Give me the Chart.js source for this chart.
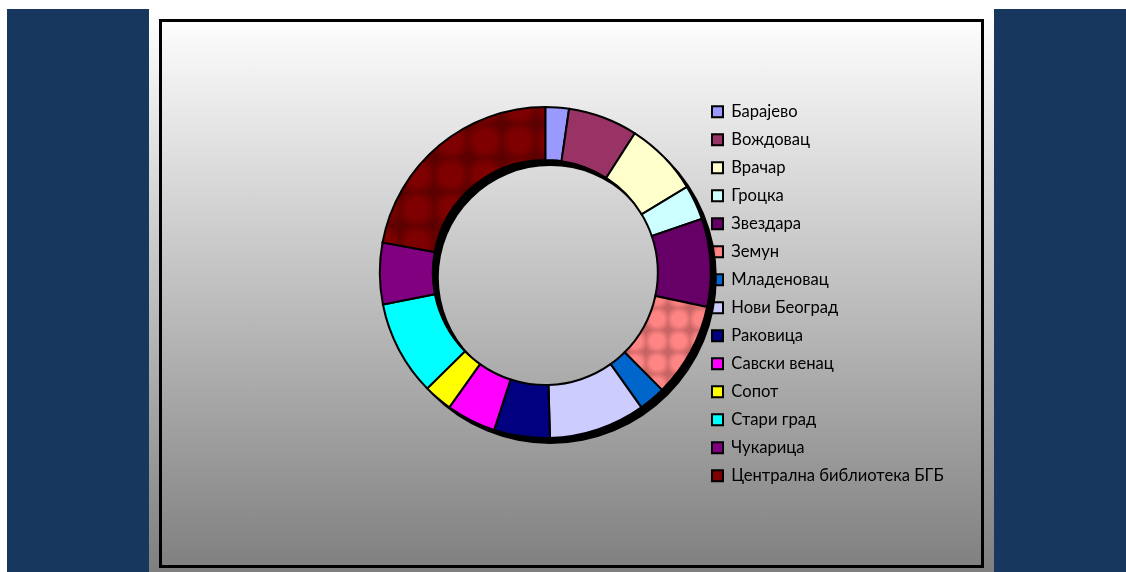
<!DOCTYPE html>
<html><head><meta charset="utf-8">
<script src="https://cdn.jsdelivr.net/npm/chart.js@4.4.0/dist/chart.umd.min.js"></script>
<style>
html,body{margin:0;padding:0;}
body{width:1126px;height:572px;position:relative;overflow:hidden;background:#ffffff;}
#bg{position:absolute;left:149px;top:0;width:845px;height:572px;background:linear-gradient(to bottom,#ffffff 0px,#ffffff 12px,#7f7f7f 572px);}
.panel{position:absolute;top:9px;height:563px;background:#17375E;}
#frame{position:absolute;left:159px;top:19px;width:825px;height:549px;border:3px solid #000;box-sizing:border-box;}
#c{position:absolute;left:0;top:0;width:819px;height:543px;}
</style></head><body>
<div id="bg"></div>
<div class="panel" style="left:7px;width:142px"></div>
<div class="panel" style="left:994px;width:132px"></div>
<div id="frame"><canvas id="c" width="819" height="543"></canvas></div>
<script>
const categories = ["Барајево","Вождовац","Врачар","Гроцка","Звездара","Земун","Младеновац","Нови Београд","Раковица","Савски венац","Сопот","Стари град","Чукарица","Централна библиотека БГБ"];
const shares = [2.3, 6.8, 7.25, 3.4, 8.6, 9.2, 2.6, 9.4, 5.45, 4.85, 2.8, 9.25, 6.0, 22.1];
const sliceColors = ["#9999FF","#993366","#FFFFCC","#CCFFFF","#660066","TILE_ZEMUN","#0066CC","#CCCCFF","#000080","#FF00FF","#FFFF00","#00FFFF","#800080","TILE_CENTRAL"];

const legendFont = {family:"Lato, 'Noto Sans', sans-serif", size:16.6};

function makeTile(center, edge, size){
  const t = document.createElement('canvas');
  t.width = size; t.height = size;
  const g = t.getContext('2d');
  g.fillStyle = edge; g.fillRect(0,0,size,size);
  const rg = g.createRadialGradient(size/2,size/2,0,size/2,size/2,size*0.6);
  rg.addColorStop(0, center); rg.addColorStop(0.5, center); rg.addColorStop(1, edge);
  g.fillStyle = rg; g.fillRect(0,0,size,size);
  return g.createPattern(t,'repeat');
}
const tiles = {
  TILE_ZEMUN: makeTile('#FF8484','#C86464',22),
  TILE_CENTRAL: makeTile('#7E0000','#5C0000',34)
};
const fills = sliceColors.map(c => tiles[c] || c);

// legend geometry: measure the widest label so the legend box starts where the reference's does
const mctx = document.createElement('canvas').getContext('2d');
mctx.font = legendFont.size + 'px ' + legendFont.family;
const widest = Math.max(...categories.map(s => mctx.measureText(s).width));
const boxW = 11, labPad = 12;
const legendW = labPad + boxW + legendFont.size/2 + widest + 10;
const legendLeft = 538, centerX = 383;
const padLeft = 2*centerX - legendLeft;
const padRight = 819 - legendLeft - legendW;

const ringShadow = {
  id:'ringShadow',
  beforeDatasetsDraw(chart){
    const meta = chart.getDatasetMeta(0);
    const a = meta.data[0];
    if(!a) return;
    const p = a.getProps(['x','y','innerRadius','outerRadius'], true);
    const ctx = chart.ctx;
    ctx.save();
    ctx.fillStyle = '#000';
    ctx.beginPath();
    ctx.arc(p.x+5, p.y+5, p.outerRadius+1, 0, Math.PI*2);
    ctx.arc(p.x+5, p.y+5, Math.max(p.innerRadius-1,0), 0, Math.PI*2, true);
    ctx.fill('evenodd');
    ctx.restore();
  }
};

new Chart(document.getElementById('c'), {
  type:'doughnut',
  data:{
    labels: categories,
    datasets:[{
      data: shares,
      backgroundColor: fills,
      borderColor:'#000000',
      borderWidth:2,
      borderJoinStyle:'miter',
      hoverOffset:0,
      clip:false
    }]
  },
  options:{
    responsive:false,
    animation:false,
    radius:165.5,
    cutout:'68%',
    layout:{padding:{left:padLeft,right:padRight,top:0,bottom:42}},
    plugins:{
      tooltip:{enabled:false},
      legend:{
        position:'right',
        align:'start',
        title:{display:true,text:'',font:{size:10,lineHeight:1},padding:{top:60,bottom:0}},
        labels:{
          boxWidth:boxW,
          boxHeight:11,
          padding:11.4,
          color:'#000000',
          font:legendFont
        }
      }
    }
  },
  plugins:[ringShadow]
});
</script>
</body></html>
